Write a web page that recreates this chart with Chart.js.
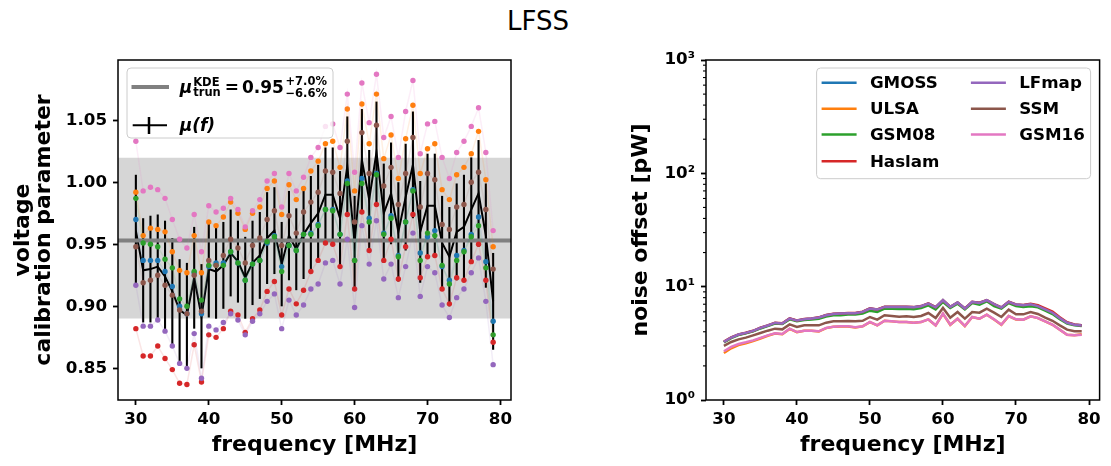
<!DOCTYPE html>
<html>
<head>
<meta charset="utf-8">
<script src="https://cdn.jsdelivr.net/npm/chart.js@4.4.1/dist/chart.umd.min.js"></script>
<style>
  body { margin: 0; background: #fff; width: 1111px; height: 466px; position: relative; overflow: hidden; }
  #title { position: absolute; left: 0; width: 1076px; top: 6px; text-align: center;
           font: 26px "DejaVu Sans"; line-height: 30px; color: #000; }
  #left { position: absolute; left: 0; top: 0; }
  #right { position: absolute; left: 560px; top: 0; }
</style>
</head>
<body>
<div id="title">LFSS</div>
<canvas id="left" width="555" height="466"></canvas>
<canvas id="right" width="551" height="466"></canvas>
<script>
// frequencies [MHz]
const freqs = [30,31,32,33,34,35,36,37,38,39,40,41,42,43,44,45,46,47,48,49,
               50,51,52,53,54,55,56,57,58,59,60,61,62,63,64,65,66,67,68,69,
               70,71,72,73,74,75,76,77,78,79];
const xTicks = [30, 40, 50, 60, 70, 80];
const yTicksLeft = [0.85, 0.90, 0.95, 1.00, 1.05];
const yTicksRight = [1, 10, 100, 1000];

const models = ['GMOSS', 'ULSA', 'GSM08', 'Haslam', 'LFmap', 'SSM', 'GSM16'];
const colors = ['#1f77b4', '#ff7f0e', '#2ca02c', '#d62728', '#9467bd', '#8c564b', '#e377c2'];

// voltage calibration parameter per model
const gmossV  = [.970,.937,.937,.937,.928,.916,.900,.894,.927,.894,.932,.935,.935,.944,.935,.921,.934,.937,.951,.957,
                 .932,.949,.945,.958,.959,.966,.978,.978,.958,1.001,.937,1.003,.971,1.007,.959,.973,.941,.968,.994,.943,
                 .956,.961,.932,.921,.941,.945,.958,.972,.936,.888];
const ulsaV   = [.992,.957,.963,.962,.960,.944,.929,.927,.957,.927,.968,.965,.972,.984,.975,.962,.975,.980,.995,1.001,
                 .974,.998,.986,.995,1.009,1.017,1.031,1.033,1.012,1.059,.993,1.063,1.031,1.071,1.019,1.038,1.003,1.035,1.062,1.007,
                 1.027,1.031,.994,.986,1.006,1.012,1.023,1.041,1.002,.948];
const gsm08V  = [.987,.951,.950,.948,.938,.931,.906,.900,.928,.905,.933,.933,.933,.944,.935,.921,.934,.937,.952,.956,
                 .928,.949,.945,.958,.958,.965,.978,.977,.958,.999,.937,.999,.968,1.006,.958,.971,.940,.968,.993,.937,
                 .959,.957,.933,.918,.937,.944,.956,.965,.931,.877];
const haslamV = [.882,.860,.860,.868,.858,.849,.838,.837,.869,.839,.877,.875,.882,.896,.893,.879,.890,.897,.912,.920,
                 .893,.914,.902,.913,.928,.937,.951,.950,.932,.974,.914,.976,.945,.982,.937,.954,.922,.948,.974,.923,
                 .940,.941,.914,.902,.923,.921,.936,.950,.921,.871];
const lfmapV  = [.917,.884,.884,.889,.880,.868,.854,.850,.878,.842,.884,.881,.887,.894,.889,.877,.888,.894,.904,.910,
                 .882,.905,.893,.901,.914,.918,.935,.937,.918,.954,.899,.965,.934,.969,.922,.934,.907,.932,.959,.908,
                 .932,.927,.901,.891,.907,.914,.927,.939,.904,.853];
const ssmV    = [.948,.919,.921,.925,.917,.909,.897,.894,.925,.896,.937,.933,.941,.954,.947,.935,.949,.955,.970,.977,
                 .949,.973,.959,.976,.984,.992,1.009,1.008,.991,1.033,.968,1.040,1.007,1.046,.997,1.012,.982,1.007,1.036,.980,
                 1.007,1.002,.966,.962,.980,.982,1.000,1.008,.978,.930];
const gsm16V  = [1.033,.993,.996,.994,.987,.970,.954,.947,.974,.944,.981,.976,.979,.987,.978,.964,.977,.986,1.001,1.007,
                 .980,1.007,.993,1.004,1.020,1.028,1.045,1.047,1.028,1.071,1.008,1.080,1.048,1.087,1.036,1.053,1.020,1.057,1.082,1.023,
                 1.047,1.049,1.020,1.003,1.024,1.033,1.045,1.060,1.024,.961];

// mu(f) and its error bar half-length
const muF   = [.961,.929,.930,.932,.924,.912,.897,.893,.923,.892,.930,.928,.933,.943,.936,.923,.935,.941,.955,.961,
               .934,.957,.946,.958,.967,.975,.990,.990,.971,1.013,.951,1.018,.986,1.024,.975,.991,.960,.988,1.014,.960,
               .981,.981,.951,.940,.960,.964,.978,.991,.957,.904];
const muErr = [.045,.042,.043,.042,.045,.043,.041,.042,.041,.042,.039,.038,.035,.035,.033,.033,.034,.035,.037,.035,
               .034,.036,.033,.036,.038,.039,.038,.038,.038,.040,.038,.041,.040,.041,.040,.041,.040,.043,.043,.041,
               .042,.042,.038,.040,.039,.042,.042,.043,.042,.039];

// truncated KDE estimate and its band
const muKde = 0.953;
const kdePlus = 7.0;   // %
const kdeMinus = 6.6;  // %

// noise offset [pW] per model
const gmossN  = [3.25,3.55,3.77,3.90,4.06,4.32,4.53,4.78,4.72,5.22,5.01,5.15,5.22,5.33,5.59,5.74,5.78,5.82,5.82,5.98,
                 6.40,6.27,6.62,6.62,6.62,6.62,6.57,6.71,7.08,6.57,7.58,6.62,7.23,6.40,7.33,7.18,7.58,6.99,6.53,7.33,
                 6.94,6.85,6.99,6.75,6.31,5.90,5.29,4.81,4.62,4.56];
const ulsaN   = [2.60,2.86,3.05,3.17,3.31,3.49,3.69,3.86,3.80,4.24,3.97,4.08,4.08,4.03,4.31,4.43,4.46,4.46,4.37,4.46,
                 4.87,4.55,5.00,4.94,4.87,4.87,4.80,4.87,5.14,4.55,5.77,4.61,5.21,4.49,5.39,5.21,5.66,5.14,4.61,5.50,
                 5.14,5.11,5.47,5.28,4.94,4.61,4.17,3.76,3.73,3.80];
const gsm08N  = [3.22,3.52,3.74,3.87,4.03,4.28,4.49,4.73,4.68,5.15,4.95,5.08,5.12,5.22,5.45,5.59,5.59,5.67,5.67,5.78,
                 6.14,5.98,6.40,6.40,6.36,6.40,6.31,6.49,6.85,6.31,7.33,6.49,7.08,6.31,7.18,6.94,7.43,6.75,6.40,7.18,
                 6.75,6.62,6.71,6.57,6.14,5.74,5.15,4.72,4.56,4.50];
const haslamN = [3.27,3.57,3.79,3.92,4.08,4.35,4.56,4.81,4.75,5.25,5.04,5.18,5.25,5.36,5.62,5.77,5.81,5.85,5.85,6.01,
                 6.43,6.30,6.65,6.65,6.65,6.65,6.60,6.74,7.11,6.60,7.60,6.65,7.26,6.43,7.36,7.21,7.60,7.02,6.56,7.36,
                 6.97,6.90,7.08,6.86,6.44,6.02,5.38,4.86,4.64,4.57];
const lfmapN  = [3.26,3.56,3.78,3.91,4.07,4.33,4.54,4.79,4.73,5.23,5.02,5.16,5.23,5.34,5.60,5.75,5.79,5.83,5.83,5.99,
                 6.41,6.28,6.63,6.63,6.63,6.63,6.58,6.72,7.09,6.58,7.59,6.63,7.24,6.41,7.34,7.19,7.59,7.00,6.54,7.34,
                 6.95,6.86,6.98,6.74,6.30,5.89,5.28,4.80,4.61,4.55];
const ssmN    = [3.00,3.25,3.43,3.55,3.72,3.90,4.09,4.26,4.20,4.65,4.41,4.56,4.56,4.56,4.81,4.95,4.95,4.99,4.95,5.00,
                 5.40,5.12,5.59,5.51,5.44,5.48,5.40,5.51,5.86,5.29,6.49,5.33,5.98,5.22,5.98,5.90,6.40,5.90,5.40,6.27,
                 5.70,5.70,5.98,5.74,5.33,5.00,4.56,4.18,4.04,4.04];
const gsm16N  = [2.69,2.94,3.12,3.23,3.36,3.53,3.72,3.88,3.82,4.26,3.98,4.09,4.09,4.04,4.32,4.44,4.47,4.47,4.38,4.47,
                 4.88,4.56,5.01,4.95,4.88,4.88,4.81,4.88,5.15,4.56,5.78,4.62,5.22,4.50,5.40,5.22,5.67,5.15,4.62,5.51,
                 5.15,5.12,5.48,5.29,4.95,4.62,4.18,3.77,3.72,3.77];

const voltSeries = [gmossV, ulsaV, gsm08V, haslamV, lfmapV, ssmV, gsm16V];
const noiseSeries = [gmossN, ulsaN, gsm08N, haslamN, lfmapN, ssmN, gsm16N];

Chart.defaults.font.family = 'DejaVu Sans';
Chart.defaults.color = '#000';

const X_MIN = 27.55, X_MAX = 81.45;
const tickFont = {size: 16.7, weight: 'bold'};
const labelFont = {size: 22, weight: 'bold'};

function rgba(hex, a) {
  const n = parseInt(hex.slice(1), 16);
  return `rgba(${n >> 16},${(n >> 8) & 255},${n & 255},${a})`;
}

const framePlugin = {
  id: 'frame',
  afterDatasetsDraw(chart) {
    const {ctx, chartArea: a} = chart;
    ctx.save();
    ctx.strokeStyle = '#000';
    ctx.lineWidth = 1.5;
    ctx.strokeRect(a.left, a.top, a.right - a.left, a.bottom - a.top);
    ctx.restore();
  }
};

function legendBox(ctx, x, y, w, h) {
  ctx.beginPath();
  ctx.roundRect(x, y, w, h, 4);
  ctx.fillStyle = 'rgba(255,255,255,0.8)';
  ctx.fill();
  ctx.strokeStyle = '#cccccc';
  ctx.lineWidth = 1;
  ctx.stroke();
}

const leftLegend = {
  id: 'leftLegend',
  afterDraw(chart) {
    const {ctx, chartArea: a} = chart;
    const bx = a.left + 9, by = a.top + 8;
    ctx.save();
    legendBox(ctx, bx, by, 206, 70);
    // row 1: truncated KDE line
    ctx.strokeStyle = '#808080';
    ctx.lineWidth = 4;
    ctx.beginPath(); ctx.moveTo(bx + 4.5, by + 19); ctx.lineTo(bx + 42, by + 19); ctx.stroke();
    ctx.fillStyle = '#000';
    ctx.textBaseline = 'alphabetic';
    let x = bx + 52.7;
    ctx.font = 'italic bold 17px "DejaVu Sans"';
    ctx.fillText('μ', x, by + 25);
    x += ctx.measureText('μ').width + 1;
    ctx.font = 'bold 11.5px "DejaVu Sans"';
    ctx.fillText('KDE', x, by + 17.5);
    ctx.fillText('trun', x, by + 27.5);
    x += Math.max(ctx.measureText('KDE').width, ctx.measureText('trun').width) + 4;
    ctx.font = 'bold 17px "DejaVu Sans"';
    ctx.fillText('=', x, by + 25);
    x += ctx.measureText('=').width + 3;
    const main = muKde.toFixed(2);
    ctx.fillText(main, x, by + 25);
    x += ctx.measureText(main).width + 1.5;
    ctx.font = 'bold 11.5px "DejaVu Sans"';
    ctx.fillText('+' + kdePlus.toFixed(1) + '%', x, by + 17);
    ctx.fillText('\u2212' + kdeMinus.toFixed(1) + '%', x, by + 29);
    // row 2: mu(f) errorbar
    ctx.strokeStyle = '#000';
    ctx.lineWidth = 2;
    ctx.beginPath(); ctx.moveTo(bx + 5.7, by + 57.3); ctx.lineTo(bx + 40, by + 57.3); ctx.stroke();
    ctx.lineWidth = 2.5;
    ctx.beginPath(); ctx.moveTo(bx + 22, by + 49); ctx.lineTo(bx + 22, by + 66); ctx.stroke();
    ctx.font = 'italic bold 17px "DejaVu Sans"';
    ctx.fillText('μ(f)', bx + 52.7, by + 62.5);
    ctx.restore();
  }
};

const rightLegend = {
  id: 'rightLegend',
  afterDraw(chart) {
    const {ctx, chartArea: a} = chart;
    const bw = 274, bh = 110.7;
    const bx = a.right - 9 - bw, by = a.top + 8;
    ctx.save();
    legendBox(ctx, bx, by, bw, bh);
    const rows = [14.7, 40.7, 66.4, 93.2];
    const cols = [0, 149.3];
    ctx.font = 'bold 16.7px "DejaVu Sans"';
    ctx.textBaseline = 'middle';
    models.forEach((m, i) => {
      const c = i < 4 ? 0 : 1;
      const r = i < 4 ? i : i - 4;
      const y = by + rows[r];
      const x0 = bx + 5 + cols[c];
      ctx.strokeStyle = colors[i];
      ctx.lineWidth = 2.5;
      ctx.beginPath(); ctx.moveTo(x0, y); ctx.lineTo(x0 + 35, y); ctx.stroke();
      ctx.fillStyle = '#000';
      ctx.fillText(m, x0 + 48.3, y + 1);
    });
    ctx.restore();
  }
};

const minorTicks = {
  id: 'minorTicks',
  afterDraw(chart) {
    const {ctx, chartArea: a} = chart;
    const y = chart.scales.y;
    ctx.save();
    ctx.strokeStyle = '#000';
    ctx.lineWidth = 1.1;
    [1, 10, 100].forEach(d => {
      for (let k = 2; k <= 9; k++) {
        const py = y.getPixelForValue(k * d);
        ctx.beginPath(); ctx.moveTo(a.left - 3, py); ctx.lineTo(a.left, py); ctx.stroke();
      }
    });
    ctx.restore();
  }
};

function xScale(extra) {
  return Object.assign({
    type: 'linear', min: X_MIN, max: X_MAX, offset: false,
    afterBuildTicks: s => { s.ticks = xTicks.map(v => ({value: v})); },
    afterFit: s => { s.height = 66; s.paddingLeft = 0; s.paddingRight = 0; },
    grid: {display: true, drawOnChartArea: false, drawTicks: true, tickLength: 5, tickWidth: 1.8, tickColor: '#000', offset: false},
    border: {display: false},
    ticks: {font: tickFont, padding: 5, maxRotation: 0, autoSkip: false},
    title: {display: true, text: 'frequency [MHz]', font: labelFont, padding: {top: 0, bottom: 8}}
  }, extra || {});
}

// ---- left panel ----
const leftDatasets = [
  {type: 'line', data: [{x: X_MIN, y: muKde * (1 + kdePlus / 100)}, {x: X_MAX, y: muKde * (1 + kdePlus / 100)}],
   showLine: true, borderWidth: 0, pointRadius: 0, fill: '+1', backgroundColor: 'rgba(128,128,128,0.32)', order: 20},
  {type: 'line', data: [{x: X_MIN, y: muKde * (1 - kdeMinus / 100)}, {x: X_MAX, y: muKde * (1 - kdeMinus / 100)}],
   showLine: true, borderWidth: 0, pointRadius: 0, fill: false, order: 19},
  {type: 'bar', data: freqs.map((f, i) => ({x: f, y: [muF[i] - muErr[i], muF[i] + muErr[i]]})),
   backgroundColor: '#000', barThickness: 2.1, inflateAmount: 0, order: 12},
  {type: 'line', data: freqs.map((f, i) => ({x: f, y: muF[i]})), showLine: true,
   borderColor: '#000', borderWidth: 2, pointRadius: 0, fill: false, order: 11},
  {type: 'line', data: [{x: X_MIN, y: muKde}, {x: X_MAX, y: muKde}], showLine: true,
   borderColor: '#808080', borderWidth: 4, pointRadius: 0, fill: false, order: 10}
];
voltSeries.forEach((vals, i) => {
  leftDatasets.push({
    type: 'line', label: models[i], data: freqs.map((f, j) => ({x: f, y: vals[j]})), showLine: true,
    borderColor: rgba(colors[i], 0.12), borderWidth: 1.5, fill: false,
    pointRadius: 2.7, pointBorderWidth: 0, pointBackgroundColor: colors[i], order: 7 - i
  });
});

new Chart(document.getElementById('left'), {
  type: 'scatter',
  data: {datasets: leftDatasets},
  options: {
    responsive: false, animation: false, devicePixelRatio: 1,
    layout: {padding: {left: 0, right: 44, top: 60, bottom: 0}},
    plugins: {legend: {display: false}, tooltip: {enabled: false}},
    scales: {
      x: xScale(),
      y: {
        type: 'linear', min: 0.8245, max: 1.0985,
        afterBuildTicks: s => { s.ticks = yTicksLeft.map(v => ({value: v})); },
        afterFit: s => { s.width = 118; s.paddingTop = 0; s.paddingBottom = 0; },
        grid: {display: true, drawOnChartArea: false, drawTicks: true, tickLength: 5, tickWidth: 1.8, tickColor: '#000'},
        border: {display: false},
        ticks: {font: tickFont, padding: 6, callback: v => v.toFixed(2)},
        title: {display: true, text: ['voltage', 'calibration parameter'],
                font: {size: 22, weight: 'bold', lineHeight: 0.955}, padding: {top: 12.5, bottom: 0}}
      }
    }
  },
  plugins: [framePlugin, leftLegend]
});

// ---- right panel ----
const sup = {0: '\u2070', 1: '\u00b9', 2: '\u00b2', 3: '\u00b3'};
new Chart(document.getElementById('right'), {
  type: 'scatter',
  data: {
    datasets: noiseSeries.map((vals, i) => ({
      type: 'line', label: models[i], data: freqs.map((f, j) => ({x: f, y: vals[j]})), showLine: true,
      borderColor: colors[i], borderWidth: 2.5, pointRadius: 0, fill: false, order: 7 - i
    }))
  },
  options: {
    responsive: false, animation: false, devicePixelRatio: 1,
    layout: {padding: {left: 0, right: 11.4, top: 60, bottom: 0}},
    plugins: {legend: {display: false}, tooltip: {enabled: false}},
    scales: {
      x: xScale(),
      y: {
        type: 'logarithmic', min: 1, max: 1000,
        afterBuildTicks: s => { s.ticks = yTicksRight.map(v => ({value: v, major: true})); },
        afterFit: s => { s.width = 146; s.paddingTop = 0; s.paddingBottom = 0; },
        grid: {display: true, drawOnChartArea: false, drawTicks: true, tickLength: 5, tickWidth: 1.8, tickColor: '#000'},
        border: {display: false},
        ticks: {font: tickFont, padding: 6, autoSkip: false,
                callback: v => '10' + sup[Math.round(Math.log10(v))]},
        title: {display: true, text: 'noise offset [pW]', font: labelFont, padding: {top: 67.8, bottom: 0}}
      }
    }
  },
  plugins: [framePlugin, minorTicks, rightLegend]
});
</script>
</body>
</html>
